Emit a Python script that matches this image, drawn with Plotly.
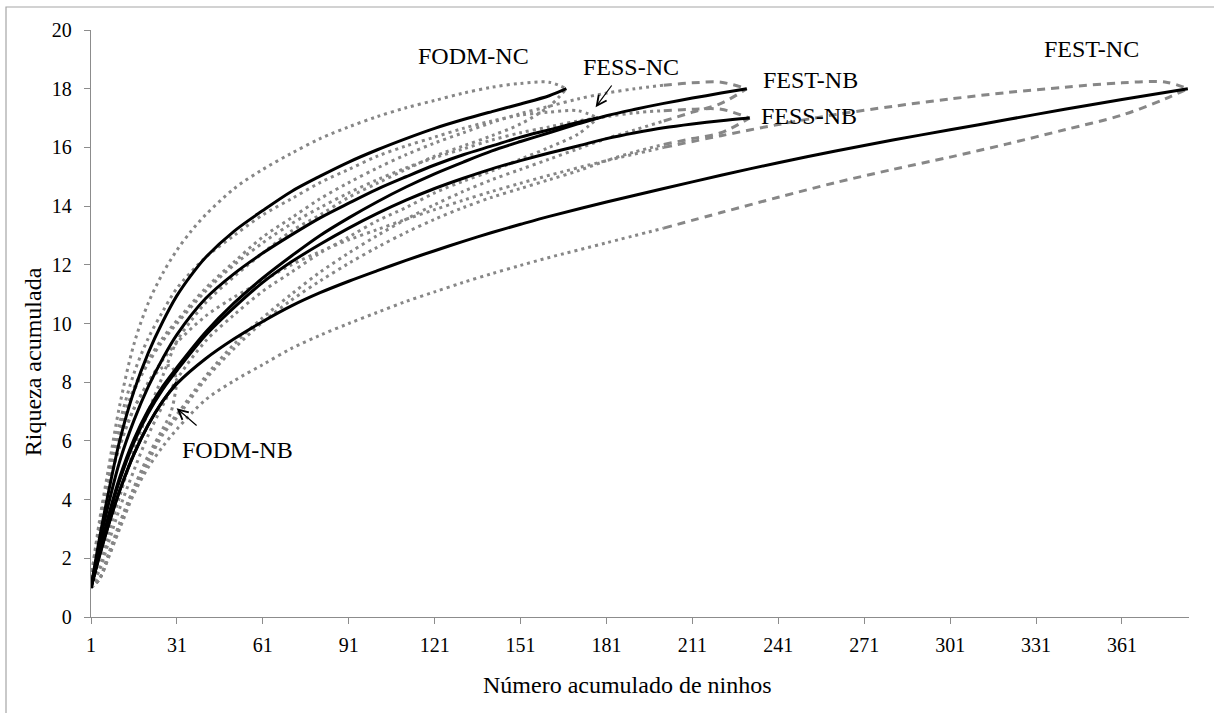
import plotly.graph_objects as go

# ---------------- data ----------------
# FODM-NC
fodm_nc_x = [1, 4, 7, 11, 16, 21, 26, 31, 36, 41, 51, 61, 71, 81, 91, 101, 111, 121, 131, 141, 151, 161, 167]
fodm_nc_mean = [1.0, 2.7, 4.2, 6.0, 7.7, 9.0, 10.05, 10.95, 11.65, 12.25, 13.15, 13.85, 14.5, 15.02, 15.5, 15.92, 16.3, 16.65, 16.95, 17.22, 17.48, 17.76, 18.0]
fodm_nc_upper = [1.3, 3.3, 5.0, 7.2, 9.3, 10.7, 11.7, 12.5, 13.15, 13.7, 14.6, 15.25, 15.8, 16.3, 16.7, 17.05, 17.35, 17.6, 17.85, 18.05, 18.18, 18.22, 18.0]
fodm_nc_lower = [1.0, 1.7, 2.8, 4.1, 5.7, 7.0, 8.2, 9.4, 10.1, 10.7, 11.6, 12.4, 13.15, 13.7, 14.3, 14.78, 15.25, 15.7, 16.05, 16.4, 16.8, 17.4, 18.0]

# FESS-NC
fess_nc_x = [1, 4, 7, 11, 16, 21, 26, 31, 41, 51, 61, 71, 81, 91, 101, 111, 121, 131, 141, 151, 161, 171, 178]
fess_nc_mean = [1.0, 2.5, 3.8, 5.3, 6.7, 7.85, 8.8, 9.62, 10.85, 11.7, 12.4, 13.02, 13.6, 14.1, 14.58, 15.0, 15.4, 15.75, 16.05, 16.35, 16.6, 16.85, 17.0]
fess_nc_upper = [1.3, 3.2, 4.8, 6.6, 8.3, 9.5, 10.4, 11.2, 12.25, 13.0, 13.7, 14.25, 14.8, 15.25, 15.7, 16.05, 16.35, 16.65, 16.9, 17.1, 17.2, 17.25, 17.0]
fess_nc_lower = [1.0, 1.6, 2.5, 3.7, 5.0, 6.2, 7.2, 8.1, 9.4, 10.3, 11.1, 11.75, 12.4, 12.95, 13.5, 13.95, 14.45, 14.85, 15.2, 15.6, 16.0, 16.45, 17.0]

# FEST-NB
fest_nb_x = [1, 4, 7, 11, 16, 21, 26, 31, 41, 51, 61, 71, 81, 91, 101, 111, 121, 131, 141, 151, 161, 171, 181, 191, 201, 211, 221, 230]
fest_nb_mean = [1.0, 2.2, 3.4, 4.75, 6.05, 7.05, 7.85, 8.5, 9.7, 10.7, 11.55, 12.3, 13.0, 13.6, 14.15, 14.65, 15.1, 15.5, 15.88, 16.2, 16.5, 16.8, 17.08, 17.3, 17.5, 17.68, 17.85, 18.0]
fest_nb_upper = [1.3, 3.0, 4.6, 6.3, 7.8, 8.75, 9.5, 10.1, 11.2, 12.1, 12.95, 13.6, 14.25, 14.8, 15.3, 15.75, 16.15, 16.5, 16.85, 17.15, 17.4, 17.65, 17.85, 18.0, 18.12, 18.2, 18.22, 18.0]
fest_nb_lower = [1.0, 1.3, 2.1, 3.2, 4.4, 5.4, 6.3, 6.9, 8.2, 9.3, 10.2, 11.0, 11.75, 12.4, 13.0, 13.55, 14.05, 14.5, 14.9, 15.25, 15.6, 15.95, 16.3, 16.6, 16.9, 17.2, 17.5, 18.0]

# FESS-NB
fess_nb_x = [1, 4, 7, 11, 16, 21, 26, 31, 41, 51, 61, 71, 81, 91, 101, 111, 121, 131, 141, 151, 161, 171, 181, 191, 201, 211, 221, 231]
fess_nb_mean = [1.0, 2.2, 3.35, 4.65, 5.95, 6.95, 7.75, 8.4, 9.6, 10.55, 11.4, 12.1, 12.7, 13.25, 13.75, 14.2, 14.6, 14.95, 15.27, 15.55, 15.81, 16.05, 16.3, 16.5, 16.67, 16.8, 16.91, 17.0]
fess_nb_upper = [1.3, 3.0, 4.5, 6.2, 7.7, 8.65, 9.4, 10.0, 11.1, 12.0, 12.75, 13.4, 13.95, 14.45, 14.9, 15.3, 15.65, 15.95, 16.25, 16.5, 16.7, 16.9, 17.05, 17.18, 17.25, 17.3, 17.3, 17.0]
fess_nb_lower = [1.0, 1.3, 2.1, 3.1, 4.3, 5.3, 6.2, 6.8, 8.1, 9.15, 10.05, 10.8, 11.45, 12.05, 12.6, 13.1, 13.55, 13.95, 14.3, 14.6, 14.9, 15.2, 15.55, 15.85, 16.1, 16.3, 16.5, 17.0]

# FEST-NC
fest_nc_x = [1, 4, 7, 11, 16, 21, 26, 31, 41, 51, 61, 71, 81, 91, 101, 111, 121, 131, 141, 151, 161, 181, 201, 221, 241, 261, 281, 301, 321, 341, 361, 376, 384]
fest_nc_mean = [1.0, 2.1, 3.1, 4.3, 5.55, 6.55, 7.35, 7.95, 8.8, 9.48, 10.07, 10.6, 11.05, 11.44, 11.8, 12.15, 12.48, 12.8, 13.1, 13.38, 13.65, 14.14, 14.6, 15.05, 15.48, 15.88, 16.25, 16.6, 16.95, 17.3, 17.63, 17.87, 18.0]
fest_nc_upper = [1.3, 2.9, 4.4, 5.8, 7.1, 8.0, 8.75, 9.35, 10.25, 10.9, 11.45, 12.0, 12.45, 12.85, 13.2, 13.55, 13.88, 14.2, 14.5, 14.78, 15.05, 15.55, 16.0, 16.4, 16.78, 17.12, 17.4, 17.65, 17.87, 18.05, 18.2, 18.23, 18.0]
fest_nc_lower = [1.0, 1.3, 2.0, 3.0, 4.2, 5.1, 5.8, 6.4, 7.4, 8.05, 8.6, 9.15, 9.6, 10.0, 10.38, 10.75, 11.08, 11.4, 11.7, 11.98, 12.25, 12.75, 13.25, 13.78, 14.3, 14.8, 15.25, 15.67, 16.12, 16.6, 17.1, 17.65, 18.0]

# FODM-NB
fodm_nb_x = [1, 4, 7, 11, 16, 21, 26, 29, 31]
fodm_nb_mean = [1.0, 2.1, 3.1, 4.3, 5.55, 6.55, 7.35, 7.75, 8.0]
fodm_nb_upper = [1.3, 3.0, 4.4, 5.9, 7.1, 7.95, 8.5, 8.55, 8.0]
fodm_nb_lower = [1.0, 1.3, 2.0, 3.1, 4.4, 5.5, 6.4, 7.0, 8.0]

x_ticks = [1, 31, 61, 91, 121, 151, 181, 211, 241, 271, 301, 331, 361]
y_ticks = [0, 2, 4, 6, 8, 10, 12, 14, 16, 18, 20]

curves = [
    ("FEST-NC", fest_nc_x, fest_nc_mean, fest_nc_upper, fest_nc_lower),
    ("FESS-NB", fess_nb_x, fess_nb_mean, fess_nb_upper, fess_nb_lower),
    ("FEST-NB", fest_nb_x, fest_nb_mean, fest_nb_upper, fest_nb_lower),
    ("FESS-NC", fess_nc_x, fess_nc_mean, fess_nc_upper, fess_nc_lower),
    ("FODM-NC", fodm_nc_x, fodm_nc_mean, fodm_nc_upper, fodm_nc_lower),
    ("FODM-NB", fodm_nb_x, fodm_nb_mean, fodm_nb_upper, fodm_nb_lower),
]

FONT = "Liberation Serif"
GRAY = "#878787"
AXIS = "#8c8c8c"
SPLIT = 201

fig = go.Figure()

# confidence limits (gray), dotted then dashed on the flat part
for name, xs, mean, up, lo in curves:
    for ys in (up, lo):
        dx = [x for x in xs if x <= SPLIT]
        dy = [y for x, y in zip(xs, ys) if x <= SPLIT]
        fig.add_trace(go.Scatter(x=dx, y=dy, mode="lines",
                                 line=dict(color=GRAY, width=3, dash="3px,4px", shape="spline", smoothing=0.9),
                                 showlegend=False, hoverinfo="skip"))
        if xs[-1] > SPLIT:
            ex = [x for x in xs if x >= SPLIT]
            ey = [y for x, y in zip(xs, ys) if x >= SPLIT]
            fig.add_trace(go.Scatter(x=ex, y=ey, mode="lines",
                                     line=dict(color=GRAY, width=3, dash="8px,6px", shape="spline", smoothing=0.9),
                                     showlegend=False, hoverinfo="skip"))

# observed curves (black)
for name, xs, mean, up, lo in curves:
    fig.add_trace(go.Scatter(x=xs, y=mean, mode="lines", name=name,
                             line=dict(color="black", width=3, shape="spline", smoothing=0.9),
                             showlegend=False))

ann = []
labels = [
    ("FODM-NC", 134.6, 19.11),
    ("FESS-NC", 189.4, 18.74),
    ("FEST-NB", 252.2, 18.30),
    ("FESS-NB", 251.8, 17.07),
    ("FEST-NC", 350.2, 19.35),
    ("FODM-NB", 52.1, 5.69),
]
for t, x, y in labels:
    ann.append(dict(x=x, y=y, xref="x", yref="y", text=t, showarrow=False,
                    font=dict(family=FONT, size=24, color="black"),
                    xanchor="center", yanchor="middle"))

# arrows
ann.append(dict(x=177.2, y=17.37, ax=183.2, ay=18.16, xref="x", yref="y", axref="x", ayref="y",
                text="", showarrow=True, arrowhead=5, arrowsize=1.6, arrowwidth=1.2, arrowcolor="black"))
ann.append(dict(x=30.9, y=7.11, ax=38.4, ay=6.48, xref="x", yref="y", axref="x", ayref="y",
                text="", showarrow=True, arrowhead=5, arrowsize=1.6, arrowwidth=1.2, arrowcolor="black"))

# axis titles
ann.append(dict(x=0.489, y=-0.116, xref="paper", yref="paper", text="Número acumulado de ninhos",
                showarrow=False, font=dict(family=FONT, size=24, color="black"),
                xanchor="center", yanchor="middle"))
ann.append(dict(x=-0.0528, y=0.434, xref="paper", yref="paper", text="Riqueza acumulada",
                showarrow=False, textangle=-90, font=dict(family=FONT, size=24, color="black"),
                xanchor="center", yanchor="middle"))

fig.update_layout(
    width=1214, height=713,
    margin=dict(l=91, r=25, t=30, b=96),
    paper_bgcolor="white", plot_bgcolor="white",
    font=dict(family=FONT, size=20, color="black"),
    annotations=ann,
    shapes=[dict(type="rect", xref="paper", yref="paper",
                 x0=(6 - 91) / 1098, x1=(1260 - 91) / 1098,
                 y0=(617 - 760) / 587, y1=(617 - 7) / 587,
                 line=dict(color="#a6a6a6", width=1.2), layer="below")],
)
fig.update_xaxes(range=[1, 384.4], tickvals=x_ticks, ticktext=[str(v) for v in x_ticks],
                 showline=True, linecolor=AXIS, linewidth=1.3, ticks="outside", ticklen=6,
                 tickcolor=AXIS, showgrid=False, zeroline=False, ticklabelstandoff=4,
                 tickfont=dict(family=FONT, size=20, color="black"))
fig.update_yaxes(range=[0, 20], tickvals=y_ticks,
                 showline=True, linecolor=AXIS, linewidth=1.3, ticks="outside", ticklen=6,
                 tickcolor=AXIS, showgrid=False, zeroline=False, ticklabelstandoff=8,
                 tickfont=dict(family=FONT, size=20, color="black"))

fig.write_html("out.html")
